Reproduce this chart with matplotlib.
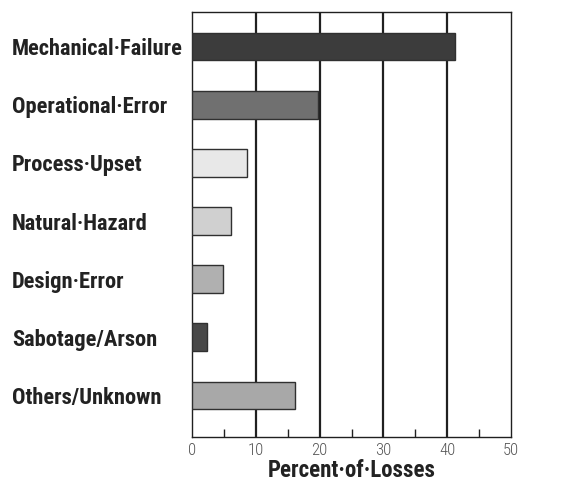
import matplotlib
matplotlib.use('Agg')
import matplotlib.pyplot as plt
from matplotlib import font_manager

# data
causes = ['Mechanical·Failure', 'Operational·Error', 'Process·Upset',
          'Natural·Hazard', 'Design·Error', 'Sabotage/Arson', 'Others/Unknown']
percent = [41.3, 19.8, 8.6, 6.1, 4.9, 2.4, 16.1]
bar_colors = ['#3c3c3c', '#707070', '#e8e8e8', '#d0d0d0', '#b0b0b0', '#484848', '#a8a8a8']
xticks = [0, 10, 20, 30, 40, 50]
minor_ticks = [5, 15, 25, 35, 45]

fig = plt.figure(figsize=(5.64, 4.88), dpi=100)
renderer = fig.canvas.get_renderer()


def text_width(text, size, family, stretch='normal'):
    t = fig.text(0, 0, text, fontsize=size, fontweight='bold',
                 family=[family, 'DejaVu Sans'], fontstretch=stretch)
    w = t.get_window_extent(renderer).width
    t.remove()
    return w


# narrow bold faces from the known sans families only
known = ('Liberation', 'DejaVu', 'Noto Sans', 'Roboto', 'Open Sans', 'Lato', 'Inter')
cands = [('Liberation Sans', 'normal')]
for f in font_manager.fontManager.ttflist:
    if not f.name.startswith(known) or 'Mono' in f.name or 'CJK' in f.name:
        continue
    narrow = 'Narrow' in f.name or 'Condensed' in f.name or f.stretch in ('condensed', 'semi-condensed', 'extra-condensed')
    w = f.weight if isinstance(f.weight, int) else font_manager.weight_dict.get(f.weight, 400)
    if narrow and w >= 700 and (f.name, f.stretch) not in cands:
        cands.append((f.name, f.stretch))

best = None
for fam, st in cands:
    size = 15.5 * 171 / text_width(causes[0], 15.5, fam, st)
    if best is None or abs(size - 15.7) < abs(best[2] - 15.7):
        best = (fam, st, size)
fam, stretch, lab_size = best
lab_size = min(lab_size, 16.5)
plt.rcParams['font.family'] = [fam, 'DejaVu Sans']
plt.rcParams['font.stretch'] = stretch

ax = fig.add_axes([192 / 564, 1 - 437 / 488, 319 / 564, 425 / 488])

ypos = list(range(len(causes)))
ax.barh(ypos, percent, height=0.47, color=bar_colors, edgecolor='#303030', linewidth=1, zorder=3)

for x in xticks[1:-1]:
    ax.axvline(x, color='#202020', lw=1.6, zorder=2)

ax.set_xlim(0, 50)
ax.set_ylim(6.72, -0.6)
ax.set_yticks(ypos)
ax.set_yticklabels(causes, fontsize=lab_size, fontweight='bold', color='#222222', ha='left')
ax.tick_params(axis='y', length=0, pad=(192 - 12) * 72 / 100)

ax.set_xticks(xticks)
ax.set_xticklabels([str(t) for t in xticks], fontsize=12, color='#555555', fontweight='light')
ax.set_xticks(minor_ticks, minor=True)
ax.tick_params(axis='x', which='major', length=0, pad=4)
ax.tick_params(axis='x', which='minor', direction='in', length=6, width=1, color='#202020')

for s in ax.spines.values():
    s.set_color('#202020')
    s.set_linewidth(1)

xl_size = min(16.5, 15.5 * 168 / text_width('Percent·of·Losses', 15.5, fam, stretch))
ax.set_xlabel('Percent·of·Losses', fontsize=xl_size, fontweight='bold', color='#222222', labelpad=1)

fig.savefig('out.png', dpi=100)
